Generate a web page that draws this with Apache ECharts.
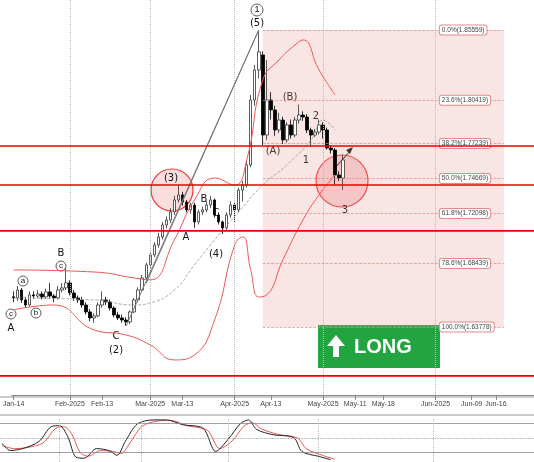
<!DOCTYPE html><html><head><meta charset="utf-8"><script src="https://cdn.jsdelivr.net/npm/echarts@6/dist/echarts.min.js"></script>
<style>body{margin:0;background:#fff}#c{width:534px;height:462px}</style></head><body><div id="c"></div><script>
const ohlc=[[1.6600,1.6592,1.6560,1.6640],[1.6592,1.6650,1.6570,1.6680],[1.6650,1.6577,1.6555,1.6665],[1.6577,1.6540,1.6520,1.6600],[1.6540,1.6614,1.6530,1.6640],[1.6614,1.6606,1.6585,1.6640],[1.6606,1.6621,1.6590,1.6650],[1.6621,1.6599,1.6580,1.6640],[1.6599,1.6636,1.6585,1.6660],[1.6636,1.6606,1.6590,1.6700],[1.6606,1.6592,1.6560,1.6620],[1.6592,1.6650,1.6580,1.6680],[1.6650,1.6665,1.6630,1.6700],[1.6665,1.6702,1.6650,1.6812],[1.6702,1.6628,1.6610,1.6720],[1.6628,1.6592,1.6570,1.6650],[1.6592,1.6577,1.6555,1.6610],[1.6577,1.6540,1.6520,1.6600],[1.6540,1.6489,1.6470,1.6560],[1.6489,1.6445,1.6420,1.6510],[1.6445,1.6460,1.6409,1.6480],[1.6460,1.6540,1.6450,1.6560],[1.6540,1.6577,1.6520,1.6640],[1.6577,1.6562,1.6540,1.6600],[1.6562,1.6518,1.6500,1.6580],[1.6518,1.6467,1.6450,1.6530],[1.6467,1.6445,1.6430,1.6490],[1.6445,1.6430,1.6410,1.6470],[1.6430,1.6416,1.6387,1.6450],[1.6416,1.6489,1.6400,1.6500],[1.6489,1.6577,1.6480,1.6590],[1.6577,1.6650,1.6560,1.6670],[1.6650,1.6738,1.6640,1.6760],[1.6738,1.6834,1.6720,1.6850],[1.6834,1.6907,1.6810,1.6930],[1.6907,1.6980,1.6890,1.7000],[1.6980,1.7039,1.6960,1.7070],[1.7039,1.7127,1.7020,1.7150],[1.7127,1.7163,1.7100,1.7190],[1.7163,1.7222,1.7140,1.7250],[1.7222,1.7310,1.7200,1.7340],[1.7310,1.7347,1.7290,1.7420],[1.7347,1.7295,1.7270,1.7370],[1.7295,1.7237,1.7220,1.7310],[1.7237,1.7273,1.7210,1.7290],[1.7273,1.7149,1.7105,1.7290],[1.7149,1.7222,1.7130,1.7240],[1.7222,1.7237,1.7200,1.7260],[1.7237,1.7273,1.7220,1.7300],[1.7273,1.7310,1.7250,1.7340],[1.7310,1.7200,1.7180,1.7320],[1.7200,1.7149,1.7130,1.7220],[1.7149,1.7105,1.7061,1.7160],[1.7105,1.7200,1.7090,1.7220],[1.7200,1.7273,1.7180,1.7300],[1.7273,1.7237,1.7150,1.7290],[1.7237,1.7383,1.7220,1.7400],[1.7383,1.7420,1.7300,1.7450],[1.7420,1.7567,1.7400,1.7600],[1.7567,1.8043,1.7550,1.8080],[1.8043,1.8263,1.8000,1.8300],[1.8263,1.8395,1.8200,1.8556],[1.8373,1.7786,1.7713,1.8400],[1.7786,1.8043,1.7750,1.8336],[1.8043,1.7970,1.7900,1.8100],[1.7970,1.7823,1.7780,1.8000],[1.7823,1.7896,1.7800,1.7950],[1.7896,1.7750,1.7720,1.7920],[1.7750,1.7860,1.7730,1.7880],[1.7860,1.7786,1.7760,1.7900],[1.7786,1.7896,1.7770,1.7920],[1.7896,1.7933,1.7870,1.8010],[1.7933,1.7918,1.7890,1.7960],[1.7918,1.7823,1.7800,1.7940],[1.7823,1.7786,1.7700,1.7840],[1.7786,1.7808,1.7770,1.7830],[1.7808,1.7860,1.7790,1.7900],[1.7860,1.7823,1.7760,1.7880],[1.7823,1.7691,1.7680,1.7840],[1.7691,1.7676,1.7650,1.7710],[1.7676,1.7493,1.7420,1.7690],[1.7493,1.7471,1.7450,1.7520],[1.7471,1.7603,1.7383,1.7640]];
const upperBand=[[0,1.6797],[20,1.6782],[30,1.6738],[34,1.6724],[40,1.7017],[45,1.7310],[50,1.7471],[55,1.7420],[58,1.7603],[62,1.8190],[66,1.8336],[70,1.8446],[72,1.8483],[76,1.8263],[80,1.8080]];
const lowerBand=[[0,1.6504],[10,1.6540],[20,1.6357],[28,1.6320],[34,1.6247],[40,1.6137],[45,1.6174],[50,1.6430],[55,1.6980],[57,1.7039],[59,1.6797],[61,1.6599],[63,1.6614],[67,1.6870],[72,1.7163],[76,1.7347],[80,1.7493]];
const midBand=[[0,1.6592],[20,1.6577],[30,1.6540],[34,1.6555],[40,1.6650],[45,1.6834],[50,1.7017],[56,1.7222],[62,1.7420],[68,1.7567],[74,1.7750],[77,1.7896],[80,1.7823]];
const stochMain=[[0,39],[2,24],[5,28],[9,43],[12,74],[14,76],[16,53],[18,10],[20,8],[23,28],[26,24],[28,14],[30,43],[33,80],[37,88],[40,88],[44,78],[49,70],[52,22],[55,47],[58,80],[60,88],[62,68],[66,57],[71,51],[73,22],[77,12],[80,5]];
const stochSignal=[[0,34],[3,28],[6,30],[10,40],[13,70],[15,74],[17,58],[19,20],[21,12],[24,24],[27,22],[29,18],[31,38],[34,74],[38,86],[41,87],[45,76],[50,66],[53,28],[56,44],[59,76],[61,82],[63,70],[67,58],[72,50],[74,28],[78,14],[81,6]];
const fibLevels=[1.85559,1.80419,1.77239,1.74669,1.72098,1.68439,1.63778];
const fibNames=['0.0%','23.6%','38.2%','50.0%','61.8%','78.6%','100.0%'];
const redLevels=[1.7706,1.7420,1.7083,1.6020];
const tickLabels={0:'Jan-14',14:'Feb-2025',22:'Feb-13',34:'Mar-2025',42:'Mar-13',55:'Apr-2025',64:'Apr-13',77:'May-2025',85:'May-11',92:'May-18',105:'Jun-2025',114:'Jun-09',120:'Jun-16'};
const monthIdx=[14,34,55,77,105];
const N=130;
const cats=[];for(let i=0;i<N;i++)cats.push(String(i));
const chart=echarts.init(document.getElementById('c'));
const xa=(gi,show)=>({type:'category',data:cats,gridIndex:gi,boundaryGap:true,axisLine:{show:true,lineStyle:{color:'#888'}},
 axisTick:{show:show,alignWithLabel:true,interval:(i)=>tickLabels[i]!==undefined,lineStyle:{color:'#888'}},
 axisLabel:{show:show,interval:(i)=>tickLabels[i]!==undefined,formatter:(v)=>tickLabels[+v]||'',fontSize:7,color:'#444',margin:6},splitLine:{show:false}});
const vlines=(gi)=>monthIdx.map(i=>({xAxis:i}));
const fibLines=fibLevels.map((v,k)=>[{coord:[62,v]},{coord:[122,v],label:{show:true,position:'end',formatter:fibNames[k]+'('+v.toFixed(5)+')',fontSize:6.5,color:'#444',backgroundColor:'#fff',borderColor:'#e08a8a',borderWidth:1,borderRadius:2,padding:[1,2],distance:-64}}]);
chart.setOption({animation:false,
grid:[{left:0,right:0,top:0,bottom:67},{left:0,right:0,top:418,bottom:0}],
xAxis:[xa(0,true),xa(1,false)],
yAxis:[{type:'value',min:1.588,max:1.8776,show:false,splitLine:{show:false}},{type:'value',gridIndex:1,min:0,max:92,show:false,splitLine:{show:false}}],
series:[
{type:'candlestick',data:ohlc,barWidth:3,itemStyle:{color:'#fff',color0:'#000',borderColor:'#333',borderColor0:'#000',borderWidth:0.8},
 markArea:{silent:true,itemStyle:{color:'rgba(235,150,150,0.25)'},data:[[{coord:[62,fibLevels[0]]},{coord:[122,fibLevels[6]]}]]},
 markLine:{silent:true,symbol:'none',label:{show:false},data:[
  ...vlines(0).map(d=>({...d,lineStyle:{color:'#bbb',type:'dotted',width:1}})),
  ...fibLines.map(l=>{l[0].lineStyle={color:'#e08a8a',type:'dashed',width:0.7};return l;}),
  [{coord:[28,1.6387],lineStyle:{color:'#777',type:'solid',width:1}},{coord:[61,1.8556]}],
  [{coord:[33,1.6700],lineStyle:{color:'#777',type:'solid',width:1}},{coord:[61,1.8556]}]
 ]}},
{type:'line',data:upperBand,smooth:true,symbol:'none',lineStyle:{color:'#e55',width:1}},
{type:'line',data:lowerBand,smooth:true,symbol:'none',lineStyle:{color:'#e55',width:1}},
{type:'line',data:midBand,smooth:true,symbol:'none',lineStyle:{color:'#999',width:0.8,type:'dashed'}},
{type:'line',xAxisIndex:1,yAxisIndex:1,data:stochSignal,smooth:0.3,symbol:'none',lineStyle:{color:'#e55',width:1},
 markLine:{silent:true,symbol:'none',label:{show:false},data:[{yAxis:80,lineStyle:{color:'#888',type:'solid',width:0.8}},{yAxis:50,lineStyle:{color:'#888',type:'dotted',width:0.8}},{yAxis:20,lineStyle:{color:'#888',type:'solid',width:0.8}},...vlines(1).map(d=>({...d,lineStyle:{color:'#bbb',type:'dotted',width:1}}))]}},
{type:'line',xAxisIndex:1,yAxisIndex:1,data:stochMain,smooth:0.3,symbol:'none',lineStyle:{color:'#222',width:1}}
]});
const redG=redLevels.map(v=>{const y=chart.convertToPixel({yAxisIndex:0},v);return {type:'line',shape:{x1:0,y1:y,x2:534,y2:y},style:{stroke:'#e00',lineWidth:1.6},z:50};});
chart.setOption({graphic:[...redG,
 {type:'line',shape:{x1:0,y1:397,x2:534,y2:397},style:{stroke:'#999',lineWidth:1}},
 {type:'line',shape:{x1:0,y1:415,x2:534,y2:415},style:{stroke:'#999',lineWidth:1}},
 {type:'circle',shape:{cx:172,cy:190,r:21},style:{fill:'rgba(230,90,90,0.2)',stroke:'#e33',lineWidth:1.2}},
 {type:'circle',shape:{cx:342,cy:181,r:26},style:{fill:'rgba(230,90,90,0.25)',stroke:'#e33',lineWidth:1.2}},
 ...[['(3)',171,178],['A',186,237],['B',204,199],['C',216,213],['(4)',216,254],['(5)',257,23],['(B)',290,97],['(A)',273,151],['1',306,160],['2',316,116],['3',345,210],['A',11,328],['B',61,253],['C',116,336],['(2)',116,350]].map(t=>({type:'text',x:t[1],y:t[2],style:{text:t[0],fontSize:10,fill:'#111',align:'center',verticalAlign:'middle',fontFamily:'DejaVu Sans'}})),
 ...[['1',257,10,6],['c',61,266,5],['a',23,281,5],['b',36,313,5],['c',11,314,5]].map(t=>({type:'group',children:[{type:'circle',shape:{cx:t[1],cy:t[2],r:t[3]},style:{fill:'#fff',stroke:'#333',lineWidth:0.8}},{type:'text',x:t[1],y:t[2],style:{text:t[0],fontSize:t[3]+3,fill:'#111',align:'center',verticalAlign:'middle'}}]})),
 {type:'line',shape:{x1:335,y1:168,x2:351,y2:150},style:{stroke:'#111',lineWidth:1}},
 {type:'polygon',shape:{points:[[353,147],[346,150],[350,154]]},style:{fill:'#111'}},
 {type:'rect',shape:{x:318,y:325,width:122,height:43},style:{fill:'#22a540'}},
 {type:'polygon',shape:{points:[[333,357],[333,346],[327,346],[336,335],[345,346],[339,346],[339,357]]},style:{fill:'#fff'}},
 {type:'text',x:354,y:347,style:{text:'LONG',fontSize:20,fontWeight:'bold',fill:'#fff',verticalAlign:'middle',fontFamily:'Liberation Sans'}}
]});
</script></body></html>
